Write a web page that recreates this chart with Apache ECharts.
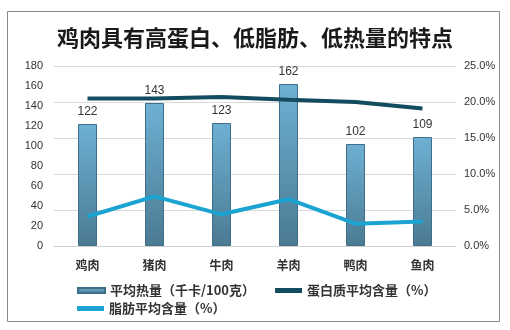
<!DOCTYPE html>
<html>
<head>
<meta charset="utf-8">
<script src="https://cdn.jsdelivr.net/npm/echarts@6/dist/echarts.min.js"></script>
<style>html,body{margin:0;padding:0;background:#fff;}#c{width:510px;height:330px;}</style>
</head>
<body>
<div id="c"></div>
<script>
var categories = ['鸡肉', '猪肉', '牛肉', '羊肉', '鸭肉', '鱼肉'];
var calories = [122, 143, 123, 162, 102, 109];
var protein = [20.5, 20.5, 20.7, 20.3, 20.0, 19.1];
var fat = [4.1, 6.9, 4.4, 6.5, 3.1, 3.4];
var leftTicks = [0, 20, 40, 60, 80, 100, 120, 140, 160, 180];
var rightTicks = [0, 5, 10, 15, 20, 25];
var seriesNames = ['平均热量（千卡/100克）', '蛋白质平均含量（%）', '脂肪平均含量（%）'];

var chart = echarts.init(document.getElementById('c'), null, {renderer: 'canvas'});
var cjk = '"Noto Sans CJK SC", sans-serif';
var num = '"Liberation Sans", Arial, sans-serif';
var legendText = {fontFamily: cjk, fontSize: 13, fontWeight: 'bold', color: '#333'};
chart.setOption({
  animation: false,
  backgroundColor: '#fff',
  title: {
    text: '鸡肉具有高蛋白、低脂肪、低热量的特点',
    left: 'center', top: 22,
    textStyle: {fontFamily: cjk, fontSize: 22, fontWeight: 'bold', color: '#1a1a1a'}
  },
  graphic: [{
    type: 'rect', silent: true,
    shape: {x: 7.5, y: 11.5, width: 492, height: 310},
    style: {fill: 'none', stroke: '#8a8a8a', lineWidth: 1}
  }],
  legend: [{
    data: [{name: seriesNames[0], icon: 'rect'}, {name: seriesNames[1], icon: 'rect'}],
    left: 72, top: 279, itemGap: 20, itemWidth: 27, itemHeight: 5,
    textStyle: legendText
  }, {
    data: [{name: seriesNames[2], icon: 'rect'}],
    left: 72, top: 297, itemWidth: 27, itemHeight: 5,
    textStyle: legendText
  }],
  grid: {left: 54, right: 54, top: 66, bottom: 84, containLabel: false},
  xAxis: {
    type: 'category', data: categories,
    axisLine: {lineStyle: {color: '#d0d0d0'}},
    axisTick: {show: false},
    axisLabel: {fontFamily: cjk, fontSize: 12, fontWeight: 'bold', color: '#333', margin: 13}
  },
  yAxis: [{
    type: 'value', min: leftTicks[0], max: leftTicks[leftTicks.length - 1], interval: 20,
    splitLine: {show: false},
    axisLine: {show: false}, axisTick: {show: false},
    axisLabel: {fontFamily: num, fontSize: 11, color: '#333', margin: 11}
  }, {
    type: 'value', min: rightTicks[0] / 100, max: rightTicks[rightTicks.length - 1] / 100, interval: 0.05,
    splitLine: {lineStyle: {color: '#d9d9d9'}},
    axisLine: {show: false}, axisTick: {show: false},
    axisLabel: {fontFamily: num, fontSize: 11, color: '#333', margin: 8,
      formatter: function (v) { return (v * 100).toFixed(1) + '%'; }}
  }],
  series: [{
    name: seriesNames[0], type: 'bar', data: calories, barWidth: 19,
    itemStyle: {
      color: new echarts.graphic.LinearGradient(0, 0, 0, 1, [
        {offset: 0, color: '#6eb0d3'}, {offset: 1, color: '#4b7a92'}
      ]),
      borderColor: '#3f6f88', borderWidth: 1
    },
    label: {show: true, position: 'top', distance: 6, fontFamily: num, fontSize: 12, color: '#333'}
  }, {
    name: seriesNames[1], type: 'line', yAxisIndex: 1, symbol: 'none',
    data: protein.map(function (v) { return v / 100; }),
    lineStyle: {color: '#134b5f', width: 4},
    itemStyle: {color: '#134b5f'}
  }, {
    name: seriesNames[2], type: 'line', yAxisIndex: 1, symbol: 'none',
    data: fat.map(function (v) { return v / 100; }),
    lineStyle: {color: '#1ba3d2', width: 4},
    itemStyle: {color: '#1ba3d2'}
  }]
});
</script>
</body>
</html>
